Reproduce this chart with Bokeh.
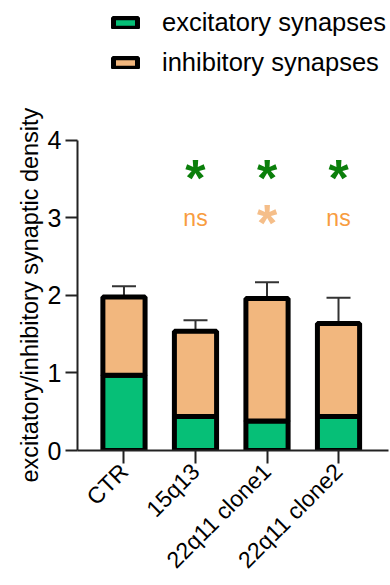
import math
from bokeh.plotting import figure
from bokeh.models import (ColumnDataSource, Range1d, FixedTicker, Whisker, TeeHead,
                          Legend, LegendItem, Title)
from bokeh.core.properties import value
from bokeh.embed import file_html
from bokeh.resources import INLINE

# ---- data ----
categories = ["CTR", "15q13", "22q11 clone1", "22q11 clone2"]
excitatory = [0.97, 0.44, 0.38, 0.44]
excitatory_err = [0.11, 0.085, 0.07, 0.12]
inhibitory = [1.01, 1.10, 1.58, 1.20]
inhibitory_err = [0.14, 0.14, 0.21, 0.33]
sig_excitatory = ["", "*", "*", "*"]
sig_inhibitory = ["", "ns", "*", "ns"]
y_ticks = [0, 1, 2, 3, 4]
y_title = "excitatory/inhibitory synaptic density"

FONT = "Liberation Sans"
GREEN = "#06BF77"
ORANGE = "#F2B77E"
AXIS = "#222222"

xs = list(range(len(categories)))
total = [e + i for e, i in zip(excitatory, inhibitory)]
src = ColumnDataSource(dict(
    x=xs,
    exc=excitatory,
    exc_up=[e + d for e, d in zip(excitatory, excitatory_err)],
    tot=total,
    tot_up=[t + d for t, d in zip(total, inhibitory_err)],
    sig_e=sig_excitatory,
    sig_i_star=[s if s == "*" else "" for s in sig_inhibitory],
    sig_i_ns=[s if s != "*" else "" for s in sig_inhibitory],
))

# frame spans the full height above the x axis so the legend can sit inside it;
# the y axis itself is bounded to 0..4
p = figure(width=390, height=585, output_backend="svg", toolbar_location=None,
           x_range=Range1d(-0.65, 3.699), y_range=Range1d(0, 5.806),
           min_border_left=77, min_border_right=2, min_border_top=0,
           min_border_bottom=135)
p.grid.visible = False
p.outline_line_color = None
p.background_fill_color = "white"

# axes
ya = p.yaxis[0]
ya.ticker = FixedTicker(ticks=y_ticks)
ya.bounds = (0, 4)
ya.axis_line_width = 2
ya.axis_line_color = AXIS
ya.major_tick_line_width = 2
ya.major_tick_line_color = AXIS
ya.major_tick_out = 12
ya.major_tick_in = 0
ya.minor_tick_line_color = None
ya.major_label_text_font = FONT
ya.major_label_text_font_size = "25px"
ya.major_label_text_color = "black"
ya.major_label_standoff = 4

# y axis title, starting a little below the x axis and running up
p.add_layout(Title(text=y_title, align="left", offset=-32, standoff=4,
                   text_font=FONT, text_font_size="23.5px",
                   text_font_style="normal", text_color="black"), "left")

xa = p.xaxis[0]
xa.ticker = FixedTicker(ticks=xs)
xa.major_label_overrides = {i: c for i, c in zip(xs, categories)}
xa.major_label_orientation = math.pi / 4
xa.axis_line_width = 2
xa.axis_line_color = AXIS
xa.major_tick_line_width = 2
xa.major_tick_line_color = AXIS
xa.major_tick_out = 13
xa.major_tick_in = 0
xa.minor_tick_line_color = None
xa.major_label_text_font = FONT
xa.major_label_text_font_size = "23px"
xa.major_label_text_color = "black"
xa.major_label_standoff = 4

# bars
r_exc = p.vbar(x="x", bottom=0, top="exc", width=0.59, source=src,
               fill_color=GREEN, line_color="black", line_width=5)
r_inh = p.vbar(x="x", bottom="exc", top="tot", width=0.59, source=src,
               fill_color=ORANGE, line_color="black", line_width=5)

# error bars (upper only)
for lo, up in (("exc", "exc_up"), ("tot", "tot_up")):
    w = Whisker(base="x", lower=lo, upper=up, source=src,
                line_color="#333333", line_width=2,
                upper_head=TeeHead(size=24, line_color="#333333", line_width=2),
                lower_head=None)
    p.add_layout(w)

# significance marks
p.text(x="x", y=3.516, text="sig_e", source=src, text_align="center",
       text_baseline="middle", text_font=value(FONT), text_font_style="bold",
       text_font_size="52px", text_color="#0B7F0B")
p.text(x="x", y=2.94, text="sig_i_star", source=src, text_align="center",
       text_baseline="middle", text_font=value(FONT), text_font_style="bold",
       text_font_size="52px", text_color="#F5BE89")
p.text(x="x", y=3.0, text="sig_i_ns", source=src, text_align="center",
       text_baseline="middle", text_font=value(FONT),
       text_font_size="23px", text_color="#F89C40")

legend = Legend(items=[LegendItem(label="excitatory synapses", renderers=[r_exc]),
                       LegendItem(label="inhibitory synapses", renderers=[r_inh])],
                location=(33, 373), orientation="vertical",
                label_text_font=FONT, label_text_font_size="25.5px",
                label_text_color="black",
                glyph_width=30, glyph_height=13, label_standoff=22,
                spacing=11, padding=0, margin=0,
                border_line_color=None, background_fill_alpha=0)
p.add_layout(legend, "center")

open("out.html", "w").write(file_html(p, INLINE))
